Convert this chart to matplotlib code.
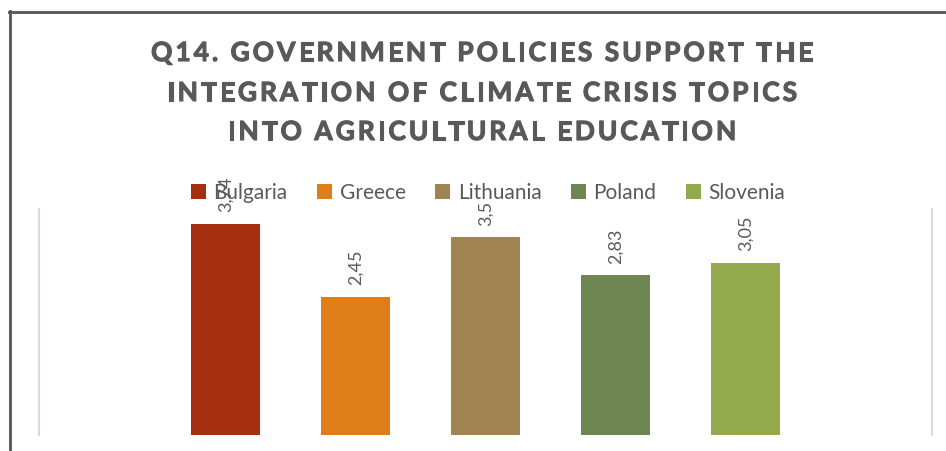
import matplotlib
matplotlib.use('Agg')
import matplotlib.pyplot as plt
import matplotlib.patheffects as pe
from matplotlib.lines import Line2D
from matplotlib.patches import Patch

countries = ['Bulgaria', 'Greece', 'Lithuania', 'Poland', 'Slovenia']
scores = [3.74, 2.45, 3.5, 2.83, 3.05]
labels = ['3,74', '2,45', '3,5', '2,83', '3,05']
colors = ['#A52F10', '#DF7E18', '#A08451', '#6E8651', '#93A94B']
title_lines = ['Q14. GOVERNMENT POLICIES SUPPORT THE',
               'INTEGRATION OF CLIMATE CRISIS TOPICS',
               'INTO AGRICULTURAL EDUCATION']

W, H = 946, 452
grey = '#595959'
plt.rcParams['font.family'] = ['Lato', 'DejaVu Sans']

fig = plt.figure(figsize=(W / 100, H / 100), dpi=100)
ax = fig.add_axes([39 / W, 1 - 436 / H, (932 - 39) / W, (436 - 210) / H])

x = list(range(len(countries)))
bars = ax.bar(x, scores, width=0.53, color=colors, zorder=2)
ax.set_xlim(-1.435, 5.435)
ax.set_ylim(0, 4)
ax.set_xticks([])
ax.set_yticks([])
for s in ['top', 'bottom']:
    ax.spines[s].set_visible(False)
for s in ['left', 'right']:
    ax.spines[s].set_color('#d9d9d9')
    ax.spines[s].set_linewidth(1.5)

# rotated value labels above each bar
for xi, v, lab in zip(x, scores, labels):
    ax.annotate(lab, (xi, v), xytext=(0, 9), textcoords='offset points',
                rotation=90, ha='center', va='bottom', fontsize=13, color=grey)

# legend with square markers
handles = [Patch(facecolor=c, edgecolor='none') for c in colors]
fig.legend(handles, countries, loc='center', bbox_to_anchor=(488 / W, 1 - 193.5 / H),
           ncol=5, frameon=False, fontsize=15, labelcolor=grey,
           handlelength=0.75, handleheight=0.75, handletextpad=0.35,
           columnspacing=1.4)

# title with letter spacing, drawn char by char
renderer = fig.canvas.get_renderer()


def char_width(ch, **kw):
    t1 = fig.text(0, 0, '|' + ch + '|', **kw)
    t2 = fig.text(0, 0, '||', **kw)
    w = t1.get_window_extent(renderer).width - t2.get_window_extent(renderer).width
    t1.remove()
    t2.remove()
    return w


tkw = dict(fontsize=19, fontweight='bold', color=grey)
thick = [pe.withStroke(linewidth=0.8, foreground=grey)]
spacing = 3.0
baselines = [62, 102, 141]
for line, by in zip(title_lines, baselines):
    widths = [char_width(ch, **tkw) for ch in line]
    total = sum(widths) + spacing * (len(line) - 1)
    px = 482 - total / 2
    for ch, w in zip(line, widths):
        if ch != ' ':
            fig.text(px / W, 1 - by / H, ch, ha='left', va='baseline',
                     path_effects=thick, **tkw)
        px += w + spacing

# outer chart frame (top and left edges visible)
fig.add_artist(Line2D([9 / W, 1], [1 - 12.5 / H, 1 - 12.5 / H], color='#555555', lw=2))
fig.add_artist(Line2D([9.5 / W, 9.5 / W], [0, 1 - 12 / H], color='#555555', lw=2))

fig.savefig('out.png', dpi=100, facecolor='white')
